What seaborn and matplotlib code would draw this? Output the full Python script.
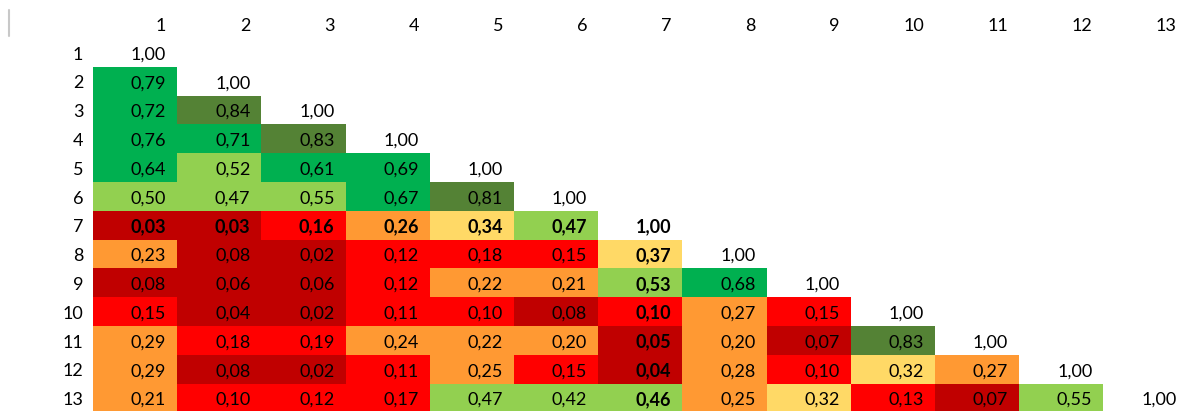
"""
Треугольная матрица корреляций в стиле условного форматирования Excel
"""

import matplotlib.pyplot as plt
import numpy as np
import pandas as pd
import seaborn as sns
from matplotlib.colors import BoundaryNorm, ListedColormap
from matplotlib.lines import Line2D

LABELS = [str(i) for i in range(1, 14)]

# нижний треугольник, построчно (включая диагональ)
ROWS = [
    [1.00],
    [0.79, 1.00],
    [0.72, 0.84, 1.00],
    [0.76, 0.71, 0.83, 1.00],
    [0.64, 0.52, 0.61, 0.69, 1.00],
    [0.50, 0.47, 0.55, 0.67, 0.81, 1.00],
    [0.03, 0.03, 0.16, 0.26, 0.34, 0.47, 1.00],
    [0.23, 0.08, 0.02, 0.12, 0.18, 0.15, 0.37, 1.00],
    [0.08, 0.06, 0.06, 0.12, 0.22, 0.21, 0.53, 0.68, 1.00],
    [0.15, 0.04, 0.02, 0.11, 0.10, 0.08, 0.10, 0.27, 0.15, 1.00],
    [0.29, 0.18, 0.19, 0.24, 0.22, 0.20, 0.05, 0.20, 0.07, 0.83, 1.00],
    [0.29, 0.08, 0.02, 0.11, 0.25, 0.15, 0.04, 0.28, 0.10, 0.32, 0.27, 1.00],
    [0.21, 0.10, 0.12, 0.17, 0.47, 0.42, 0.46, 0.25, 0.32, 0.13, 0.07, 0.55, 1.00],
]

BOLD_INDEX = 6  # строка/столбец 7 выделены жирным

BOUNDS = [0.0, 0.1, 0.2, 0.3, 0.4, 0.6, 0.8, 1.0]
COLORS = ["#C00000", "#FF0000", "#FF9933", "#FFD966", "#92D050", "#00B050", "#548235"]

FONT = ["Lato", "DejaVu Sans"]
FONT_SIZE = 13

W, H = 1179, 411
CELL_W, CELL_H = 84.2, 28.8
GRID_LEFT, GRID_TOP = 93, 38
BASELINE = 21.5 / CELL_H  # положение базовой линии текста внутри ячейки
TEXT_OFF = 11 / CELL_W  # отступ текста от правого края ячейки


def build_matrix() -> pd.DataFrame:
    n = len(LABELS)
    mat = np.full((n, n), np.nan)
    for i, row in enumerate(ROWS):
        mat[i, : len(row)] = row
    return pd.DataFrame(mat, index=LABELS, columns=LABELS)


def main() -> None:
    sns.set_theme(style="white")
    plt.rcParams["font.family"] = FONT

    df = build_matrix()
    n = len(LABELS)
    # диагональ без заливки
    mask = np.triu(np.ones((n, n), dtype=bool))

    fig = plt.figure(figsize=(W / 100, H / 100), dpi=100)
    ax = fig.add_axes(
        [
            GRID_LEFT / W,
            1 - (GRID_TOP + n * CELL_H) / H,
            n * CELL_W / W,
            n * CELL_H / H,
        ]
    )

    cmap = ListedColormap(COLORS)
    norm = BoundaryNorm(BOUNDS, cmap.N)
    sns.heatmap(
        df,
        mask=mask,
        cmap=cmap,
        norm=norm,
        cbar=False,
        ax=ax,
        linewidths=0,
        xticklabels=False,
        yticklabels=False,
    )

    # подписи значений, выровненные вправо как в Excel
    for i, row in enumerate(ROWS):
        for j, val in enumerate(row):
            bold = i == BOLD_INDEX or j == BOLD_INDEX
            ax.text(
                j + 1 - TEXT_OFF,
                i + BASELINE,
                f"{val:.2f}".replace(".", ","),
                ha="right",
                va="baseline",
                fontsize=FONT_SIZE,
                fontweight="bold" if bold else "normal",
                color="black",
                clip_on=False,
            )

    # заголовки столбцов
    for j, lab in enumerate(LABELS):
        ax.text(
            j + 1 - TEXT_OFF,
            -1 + BASELINE,
            lab,
            ha="right",
            va="baseline",
            fontsize=FONT_SIZE,
            color="black",
            clip_on=False,
        )

    # заголовки строк
    ax.set_yticks(np.arange(n) + BASELINE, LABELS)
    ax.tick_params(axis="y", length=0, pad=7, labelsize=FONT_SIZE, labelcolor="black")
    plt.setp(ax.get_yticklabels(), rotation=0, ha="right", va="baseline")
    ax.set_xlabel("")
    ax.set_ylabel("")
    for spine in ax.spines.values():
        spine.set_visible(False)

    # серая метка курсора в левом верхнем углу
    fig.add_artist(
        Line2D([9.5 / W, 9.5 / W], [1 - 10 / H, 1 - 36 / H], color="#C8C8C8", lw=1.5)
    )

    fig.savefig("out.png", dpi=100)


if __name__ == "__main__":
    main()
